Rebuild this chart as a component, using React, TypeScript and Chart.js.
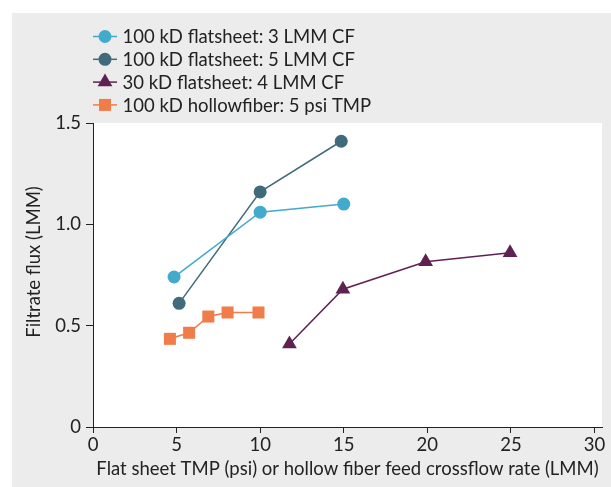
import React, { useEffect, useRef } from "react";
import { Chart, registerables } from "chart.js";

Chart.register(...registerables);

const seriesNames = [
  "100 kD flatsheet: 3 LMM CF",
  "100 kD flatsheet: 5 LMM CF",
  "30 kD flatsheet: 4 LMM CF",
  "100 kD hollowfiber: 5 psi TMP",
];

const flat3X = [4.85, 10, 15];
const flat3Y = [0.74, 1.06, 1.1];

const flat5X = [5.15, 10, 14.85];
const flat5Y = [0.61, 1.16, 1.41];

const flat30X = [11.75, 14.95, 19.9, 24.95];
const flat30Y = [0.41, 0.68, 0.815, 0.86];

const hollowX = [4.6, 5.75, 6.9, 8.05, 9.9];
const hollowY = [0.435, 0.465, 0.545, 0.565, 0.565];

const xTicks = [0, 5, 10, 15, 20, 25, 30];
const yTicks = [0, 0.5, 1.0, 1.5];

const xTitle = "Flat sheet TMP (psi) or hollow fiber feed crossflow rate (LMM)";
const yTitle = "Filtrate flux (LMM)";

const colors = ["#42aacb", "#3f6b7b", "#5d2252", "#f07c49"];
const shapes = ["circle", "circle", "triangle", "rect"];
const radii = [6.5, 6.5, 8.5, 8.5];

const toPts = (xs: number[], ys: number[]) => xs.map((x, i) => ({ x, y: ys[i] }));

const FONT = "Lato, 'DejaVu Sans', sans-serif";
const FS = 18.5;
const TEXT = "#222222";

function drawMarker(ctx: CanvasRenderingContext2D, shape: string, x: number, y: number, r: number) {
  ctx.beginPath();
  if (shape === "circle") {
    ctx.arc(x, y, r, 0, Math.PI * 2);
  } else if (shape === "rect") {
    const s = Math.SQRT1_2 * r;
    ctx.rect(x - s, y - s, 2 * s, 2 * s);
  } else {
    let rad = 0;
    ctx.moveTo(x + Math.sin(rad) * r, y - Math.cos(rad) * r);
    rad += (2 * Math.PI) / 3;
    ctx.lineTo(x + Math.sin(rad) * r, y - Math.cos(rad) * r);
    rad += (2 * Math.PI) / 3;
    ctx.lineTo(x + Math.sin(rad) * r, y - Math.cos(rad) * r);
    ctx.closePath();
  }
  ctx.fill();
}

const decorPlugin = {
  id: "decor",
  beforeDraw(chart: any) {
    const { ctx, chartArea } = chart;
    ctx.save();
    ctx.fillStyle = "#ececec";
    ctx.fillRect(12, 13, chart.width - 12, chart.height - 13);
    ctx.fillStyle = "#ffffff";
    ctx.fillRect(chartArea.left, chartArea.top, chartArea.right - chartArea.left, chartArea.bottom - chartArea.top);
    ctx.restore();
  },
  afterDraw(chart: any) {
    const { ctx } = chart;
    ctx.save();
    chart.data.datasets.forEach((ds: any, i: number) => {
      const cy = 36.5 + i * 22.8;
      ctx.strokeStyle = ds.borderColor;
      ctx.lineWidth = 1.5;
      ctx.beginPath();
      ctx.moveTo(93, cy);
      ctx.lineTo(117, cy);
      ctx.stroke();
      ctx.fillStyle = ds.backgroundColor;
      drawMarker(ctx, shapes[i], 105, cy, radii[i]);
      ctx.fillStyle = TEXT;
      ctx.font = `${FS}px ${FONT}`;
      ctx.textBaseline = "middle";
      ctx.textAlign = "left";
      ctx.fillText(ds.label, 122.5, cy + 1);
    });
    ctx.translate(34, 262);
    ctx.rotate(-Math.PI / 2);
    ctx.fillStyle = TEXT;
    ctx.font = `${FS}px ${FONT}`;
    ctx.textAlign = "center";
    ctx.textBaseline = "middle";
    ctx.fillText(yTitle, 0, 0);
    ctx.restore();
  },
};

export default function App() {
  const ref = useRef<HTMLCanvasElement>(null);

  useEffect(() => {
    if (!ref.current) return;
    const allX = [flat3X, flat5X, flat30X, hollowX];
    const allY = [flat3Y, flat5Y, flat30Y, hollowY];
    const chart = new Chart(ref.current, {
      type: "scatter",
      data: {
        datasets: seriesNames.map((name, i) => ({
          label: name,
          data: toPts(allX[i], allY[i]),
          showLine: true,
          borderColor: colors[i],
          backgroundColor: colors[i],
          borderWidth: 1.5,
          pointStyle: shapes[i] as any,
          pointRadius: radii[i],
          pointHoverRadius: radii[i],
          pointBorderWidth: 0,
          pointBackgroundColor: colors[i],
        })),
      },
      options: {
        animation: false,
        responsive: false,
        events: [],
        layout: { padding: { left: 0, top: 123, right: 9, bottom: 0 } },
        plugins: {
          legend: { display: false },
          tooltip: { enabled: false },
          title: { display: false },
        },
        scales: {
          x: {
            type: "linear",
            min: 0,
            max: 30.45,
            afterFit: (s: any) => {
              s.height = 60;
            },
            afterBuildTicks: (s: any) => {
              s.ticks = xTicks.map((v) => ({ value: v }));
            },
            ticks: {
              font: { family: FONT, size: FS },
              color: TEXT,
              padding: 1,
              maxRotation: 0,
              callback: (v: any) => String(v),
            },
            grid: {
              display: true,
              drawOnChartArea: false,
              drawTicks: true,
              tickLength: 6,
              color: "#222222",
              lineWidth: 1,
            },
            border: { display: true, color: "#222222", width: 1 },
            title: {
              display: true,
              text: xTitle,
              font: { family: FONT, size: FS },
              color: TEXT,
              padding: { top: 0, bottom: 7 },
            },
          },
          y: {
            type: "linear",
            min: 0,
            max: 1.5,
            afterFit: (s: any) => {
              s.width = 93;
            },
            afterBuildTicks: (s: any) => {
              s.ticks = yTicks.map((v) => ({ value: v }));
            },
            ticks: {
              font: { family: FONT, size: FS },
              color: TEXT,
              padding: 5,
              callback: (v: any) => (v === 0 ? "0" : Number(v).toFixed(1)),
            },
            grid: {
              display: true,
              drawOnChartArea: false,
              drawTicks: true,
              tickLength: 7,
              color: "#222222",
              lineWidth: 1,
            },
            border: { display: true, color: "#222222", width: 1 },
          },
        },
      },
      plugins: [decorPlugin],
    });
    return () => chart.destroy();
  }, []);

  return (
    <div style={{ position: "fixed", left: 0, top: 0, width: 611, height: 487, background: "#ffffff" }}>
      <canvas ref={ref} width={611} height={487} style={{ display: "block", width: 611, height: 487 }} />
    </div>
  );
}
